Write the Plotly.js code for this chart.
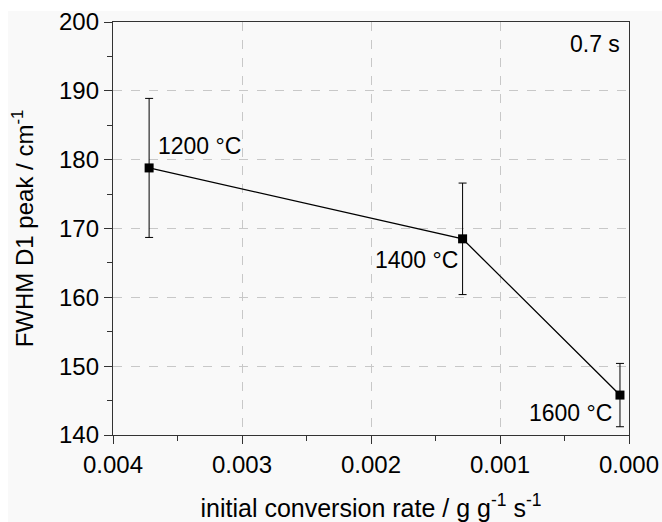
<!DOCTYPE html>
<html>
<head>
<meta charset="utf-8">
<script src="https://cdn.plot.ly/plotly-3.0.1.min.js"></script>
<style>html,body{margin:0;padding:0;background:#fff;}#chart{width:662px;height:522px;}</style>
</head>
<body>
<div id="chart"></div>
<script>
// Data
const labels = ["1200 °C", "1400 °C", "1600 °C"];
const conversionRate = [0.00372, 0.00129, 0.00007];
const fwhmD1 = [178.8, 168.5, 145.8];
const fwhmErr = [10.1, 8.1, 4.6];
const xTicks = [0.004, 0.003, 0.002, 0.001, 0.000];
const xTickText = ["0.004", "0.003", "0.002", "0.001", "0.000"];
const yTicks = [140, 150, 160, 170, 180, 190, 200];
const residenceLabel = "0.7 s";

const font = "Liberation Sans, Arial, sans-serif";

const trace = {
  x: conversionRate,
  y: fwhmD1,
  type: "scatter",
  mode: "lines+markers",
  line: {color: "#000", width: 1.3},
  marker: {symbol: "square", size: 9, color: "#000"},
  error_y: {type: "data", array: fwhmErr, visible: true, color: "#000", thickness: 1, width: 4},
  showlegend: false,
  hoverinfo: "x+y"
};

const labelPlacement = [
  {xanchor: "left", xshift: 7, yshift: 22},
  {xanchor: "right", xshift: -3, yshift: -21},
  {xanchor: "right", xshift: -6, yshift: -18}
];

const annotations = labels.map((t, i) => ({
  x: conversionRate[i], y: fwhmD1[i], xref: "x", yref: "y",
  text: t, showarrow: false,
  xanchor: labelPlacement[i].xanchor, yanchor: "middle",
  xshift: labelPlacement[i].xshift, yshift: labelPlacement[i].yshift,
  font: {family: font, size: 23, color: "#000"}
}));
annotations.push({
  x: 1, y: 1, xref: "paper", yref: "paper", text: residenceLabel,
  showarrow: false, xanchor: "right", yanchor: "top",
  xshift: -7, yshift: -7,
  font: {family: font, size: 23, color: "#000"}
});

const axisCommon = {
  showline: true, linecolor: "#333", linewidth: 1.2, mirror: true,
  ticks: "outside", ticklen: 8, tickwidth: 1, tickcolor: "#333",
  showgrid: true, gridcolor: "#c8c8c8", gridwidth: 1, griddash: "dash",
  zeroline: false,
  tickfont: {family: font, size: 24, color: "#000"}
};

const layout = {
  width: 662, height: 522,
  margin: {l: 113, r: 33, t: 22, b: 87},
  paper_bgcolor: "#ffffff",
  plot_bgcolor: "rgba(0,0,0,0)",
  shapes: [{
    type: "rect", xref: "paper", yref: "paper", layer: "below",
    x0: -0.2035, x1: 1.07, y0: -0.22, y1: 1.0266,
    fillcolor: "#f9f9f9", line: {width: 0}
  }],
  xaxis: Object.assign({}, axisCommon, {
    range: [0.004, 0.000], autorange: false,
    tickmode: "array", tickvals: xTicks, ticktext: xTickText,
    minor: {dtick: 0.0005, ticks: "outside", ticklen: 5, tickcolor: "#333", showgrid: false},
    title: {text: "initial conversion rate / g g<sup>-1</sup> s<sup>-1</sup>", font: {family: font, size: 25, color: "#000"}, standoff: 22}
  }),
  yaxis: Object.assign({}, axisCommon, {
    range: [140, 200], autorange: false,
    tickmode: "array", tickvals: yTicks,
    minor: {dtick: 5, ticks: "outside", ticklen: 5, tickcolor: "#333", showgrid: false},
    title: {text: "FWHM D1 peak / cm<sup>-1</sup>", font: {family: font, size: 24, color: "#000"}, standoff: 18}
  }),
  annotations: annotations
};

Plotly.newPlot("chart", [trace], layout, {displayModeBar: false, staticPlot: true});
</script>
</body>
</html>
